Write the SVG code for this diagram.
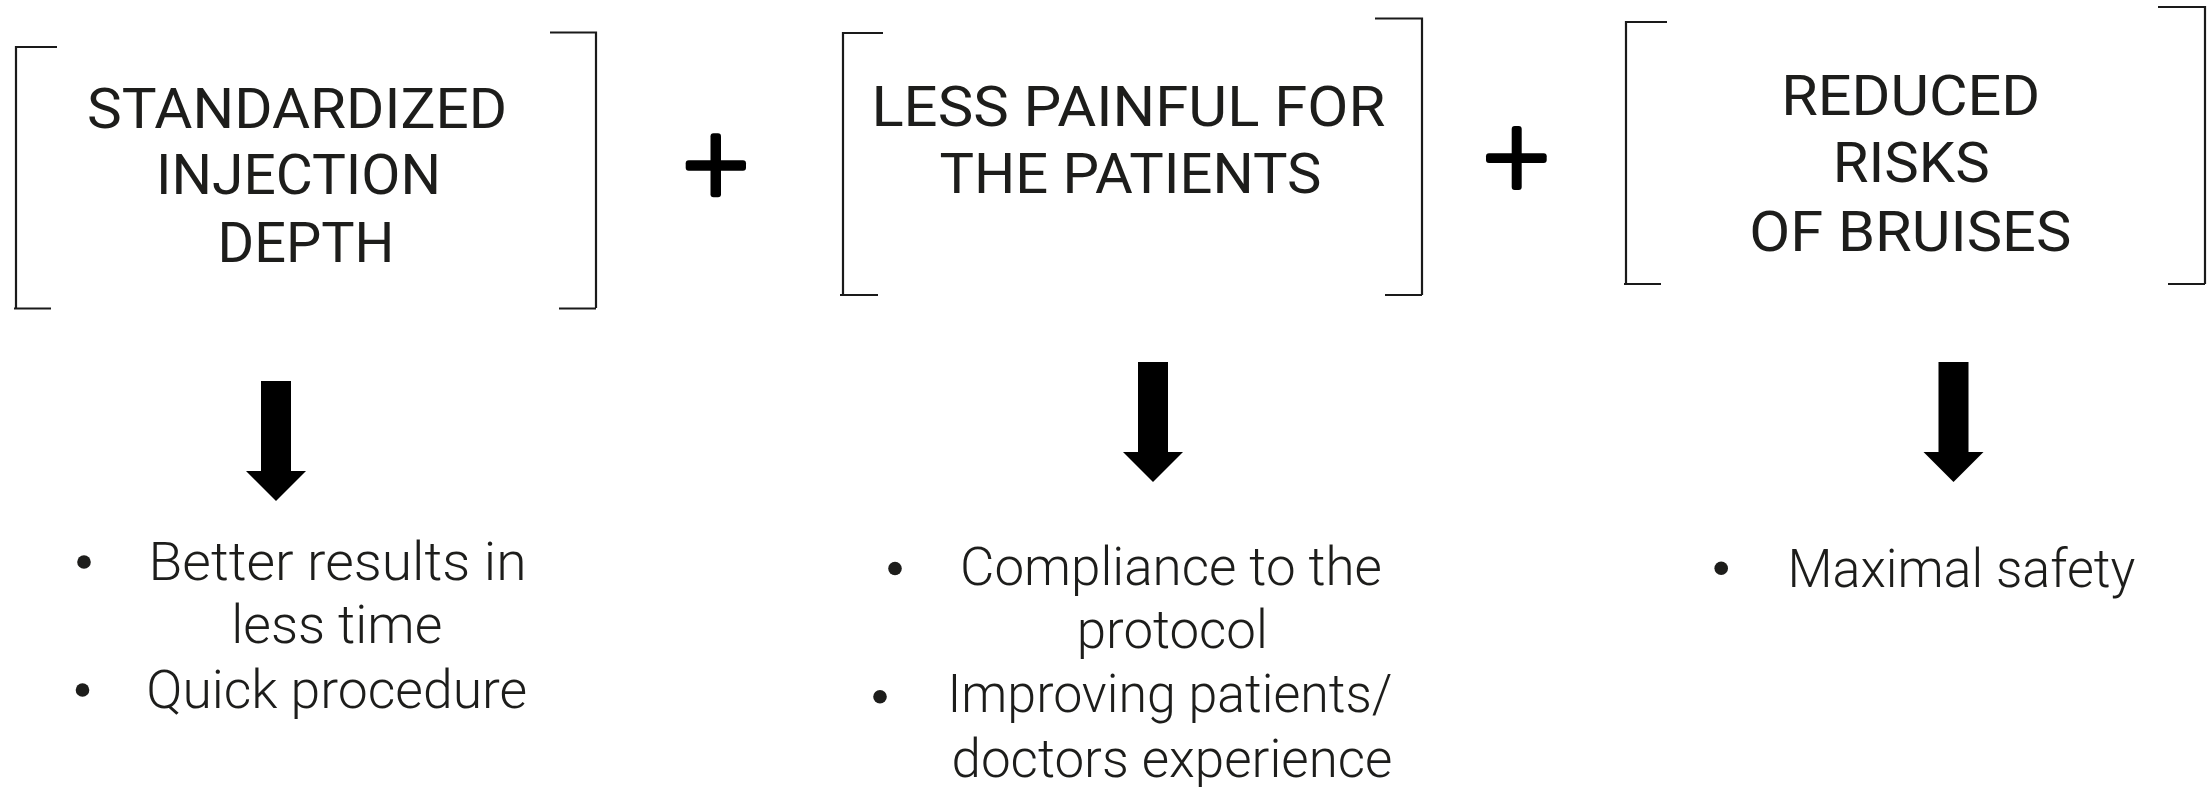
<svg xmlns="http://www.w3.org/2000/svg" width="2207" height="787" viewBox="0 0 2207 787">
<style>
.br{fill:none;stroke:#1a1a1a;stroke-width:2.2}
.hd{font-family:Roboto,"Liberation Sans",Arial,sans-serif;font-weight:400;font-size:56px;fill:#1d1d1b;text-anchor:middle}
.bd{font-family:Roboto,"Open Sans","Liberation Sans",sans-serif;font-weight:300;font-size:54px;fill:#1d1d1b;text-anchor:middle}
.pl{fill:#000}
.ar{fill:#000}
.bl{fill:#1d1d1b}
</style>
<rect width="2207" height="787" fill="#fff"/>
<g id="node-standardized">
<path class="br" d="M57,47 H16 V308 M14,308.5 H51"/>
<path class="br" d="M550,32.5 H596 V308 M559,308.5 H596"/>
<text class="hd" x="297" y="128.3" textLength="420" lengthAdjust="spacingAndGlyphs">STANDARDIZED</text>
<text class="hd" x="298.5" y="194" textLength="285" lengthAdjust="spacingAndGlyphs">INJECTION</text>
<text class="hd" x="306" y="262" textLength="177" lengthAdjust="spacingAndGlyphs">DEPTH</text>
</g>
<g id="node-less-painful">
<path class="br" d="M883,33 H843 V295 M840,295 H878"/>
<path class="br" d="M1375,18.5 H1422 V295 M1385,295 H1422"/>
<text class="hd" x="1128.4" y="126" textLength="514" lengthAdjust="spacingAndGlyphs">LESS PAINFUL FOR</text>
<text class="hd" x="1130.4" y="192.7" textLength="382" lengthAdjust="spacingAndGlyphs">THE PATIENTS</text>
</g>
<g id="node-reduced-risks">
<path class="br" d="M1667,22 H1626 V284 M1624,284 H1661"/>
<path class="br" d="M2158,7 H2205 V284 M2168,284 H2205"/>
<text class="hd" x="1910.7" y="115" textLength="259" lengthAdjust="spacingAndGlyphs">REDUCED</text>
<text class="hd" x="1911.2" y="181.7" textLength="157" lengthAdjust="spacingAndGlyphs">RISKS</text>
<text class="hd" x="1910.3" y="250.7" textLength="322" lengthAdjust="spacingAndGlyphs">OF BRUISES</text>
</g>
<g id="plus-1">
<rect class="pl" x="710.5" y="133.3" width="10.5" height="64" rx="3"/>
<rect class="pl" x="685.7" y="160.3" width="60.3" height="10.5" rx="3"/>
</g>
<g id="plus-2">
<rect class="pl" x="1511.7" y="126" width="10" height="64" rx="3"/>
<rect class="pl" x="1486" y="153.3" width="60.7" height="9.8" rx="3"/>
</g>
<g id="connectors">
<path class="ar" d="M261,381 H291 V471 H306 L276,501 L246,471 H261 Z"/>
<path class="ar" d="M1138,362 H1168 V452 H1183 L1153,482 L1123,452 H1138 Z"/>
<path class="ar" d="M1938.5,362 H1968.5 V452 H1983.5 L1953.5,482 L1923.5,452 H1938.5 Z"/>
</g>
<g id="node-benefits-1">
<circle class="bl" cx="84" cy="562" r="6.8"/>
<text class="bd" x="337.5" y="580" textLength="378" lengthAdjust="spacingAndGlyphs">Better results in</text>
<text class="bd" x="336.8" y="643" textLength="211" lengthAdjust="spacingAndGlyphs">less time</text>
<circle class="bl" cx="82.5" cy="690" r="6.8"/>
<text class="bd" x="336.7" y="708.3" textLength="381" lengthAdjust="spacingAndGlyphs">Quick procedure</text>
</g>
<g id="node-benefits-2">
<circle class="bl" cx="895" cy="568.5" r="6.8"/>
<text class="bd" x="1171" y="585.3" textLength="422" lengthAdjust="spacingAndGlyphs">Compliance to the</text>
<text class="bd" x="1172.3" y="647.7" textLength="191" lengthAdjust="spacingAndGlyphs">protocol</text>
<circle class="bl" cx="880" cy="696.7" r="6.8"/>
<text class="bd" x="1170" y="711.7" textLength="445" lengthAdjust="spacingAndGlyphs">Improving patients/</text>
<text class="bd" x="1172" y="776.7" textLength="441" lengthAdjust="spacingAndGlyphs">doctors experience</text>
</g>
<g id="node-benefits-3">
<circle class="bl" cx="1721.2" cy="568.3" r="6.8"/>
<text class="bd" x="1961.4" y="586.7" textLength="348" lengthAdjust="spacingAndGlyphs">Maximal safety</text>
</g>
</svg>
